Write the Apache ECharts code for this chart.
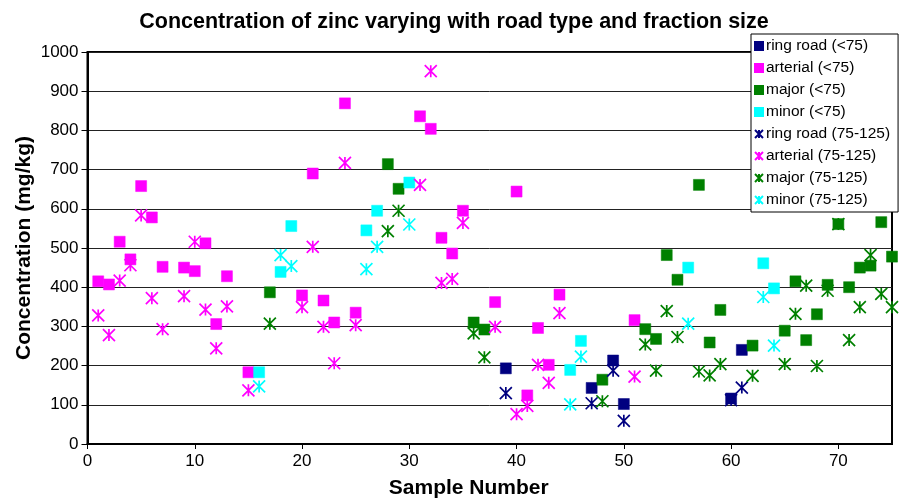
<!DOCTYPE html>
<html>
<head>
<meta charset="utf-8">
<script src="https://cdn.jsdelivr.net/npm/echarts@6/dist/echarts.min.js"></script>
<style>html,body{margin:0;padding:0;background:#fff;}#chart{width:908px;height:504px;}</style>
</head>
<body>
<div id="chart"></div>
<script>
// Sample numbers and concentrations (mg/kg) by road type; fine = <75, coarse = 75-125
var ringSamples = [39, 47, 49, 50, 60, 61];
var ringFine    = [193, 143, 213, 102, 116, 240];
var ringCoarse  = [130, 104, 187, 59, 112, 144];

var arterialSamples = [1, 2, 3, 4, 5, 6, 7, 9, 10, 11, 12, 13, 15, 20, 21, 22, 23, 24, 25, 31, 32, 33, 34, 35, 38, 40, 41, 42, 43, 44, 51];
var arterialFine    = [415, 407, 516, 471, 658, 578, 452, 450, 441, 512, 306, 428, 183, 379, 690, 366, 310, 869, 335, 836, 804, 526, 486, 595, 362, 644, 124, 296, 202, 381, 316];
var arterialCoarse  = [328, 278, 417, 456, 583, 372, 293, 377, 516, 343, 244, 351, 137, 349, 503, 299, 206, 717, 303, 661, 951, 411, 421, 564, 299, 76, 97, 202, 156, 334, 172];

var majorSamples = [17, 28, 29, 36, 37, 48, 52, 53, 54, 55, 57, 58, 59, 62, 65, 66, 67, 68, 69, 70, 71, 72, 73, 74, 75];
var majorFine    = [387, 714, 651, 310, 292, 164, 293, 268, 482, 419, 661, 259, 342, 251, 289, 415, 265, 331, 406, 561, 400, 450, 455, 566, 478];
var majorCoarse  = [307, 543, 595, 282, 221, 109, 254, 187, 339, 273, 185, 175, 204, 174, 204, 332, 404, 199, 391, 561, 265, 349, 482, 383, 349];

var minorSamples = [16, 18, 19, 26, 27, 30, 45, 46, 56, 63, 64];
var minorFine    = [183, 439, 556, 545, 595, 667, 189, 263, 450, 461, 397];
var minorCoarse  = [147, 482, 454, 446, 503, 560, 101, 223, 307, 375, 251];

var seriesNames = ['ring road (<75)', 'arterial (<75)', 'major (<75)', 'minor (<75)',
                   'ring road (75-125)', 'arterial (75-125)', 'major (75-125)', 'minor (75-125)'];
var yTicks = [0, 100, 200, 300, 400, 500, 600, 700, 800, 900, 1000];
var xTicks = [0, 10, 20, 30, 40, 50, 60, 70];

var COLORS = { ring: '#000080', arterial: '#FF00FF', major: '#008000', minor: '#00FFFF' };
var STAR = 'path://M0,0L10,10M10,0L0,10M5,0L5,10';

function pairs(xs, ys) { return xs.map(function (x, i) { return [x, ys[i]]; }); }

function squareSeries(name, xs, ys, c) {
  return { name: name, type: 'scatter', symbol: 'rect', symbolSize: 11, clip: false,
    itemStyle: { color: c, borderColor: c, borderWidth: 0.5, opacity: 1 }, data: pairs(xs, ys) };
}
function starSeries(name, xs, ys, c) {
  return { name: name, type: 'scatter', symbol: STAR, symbolSize: 12, clip: false,
    itemStyle: { color: c, borderColor: c, borderWidth: 1.7, opacity: 1 }, data: pairs(xs, ys) };
}

var series = [
  squareSeries(seriesNames[0], ringSamples, ringFine, COLORS.ring),
  squareSeries(seriesNames[1], arterialSamples, arterialFine, COLORS.arterial),
  squareSeries(seriesNames[2], majorSamples, majorFine, COLORS.major),
  squareSeries(seriesNames[3], minorSamples, minorFine, COLORS.minor),
  starSeries(seriesNames[4], ringSamples, ringCoarse, COLORS.ring),
  starSeries(seriesNames[5], arterialSamples, arterialCoarse, COLORS.arterial),
  starSeries(seriesNames[6], majorSamples, majorCoarse, COLORS.major),
  starSeries(seriesNames[7], minorSamples, minorCoarse, COLORS.minor)
];

var chart = echarts.init(document.getElementById('chart'), null, { renderer: 'canvas' });
var FONT = 'Liberation Sans, Arial, Helvetica, sans-serif';
chart.setOption({
  animation: false,
  backgroundColor: '#fff',
  textStyle: { fontFamily: FONT },
  title: {
    text: 'Concentration of zinc varying with road type and fraction size',
    left: 'center', top: 6, padding: [5, 0, 5, 14],
    textStyle: { fontFamily: FONT, fontWeight: 'bold', fontSize: 21.5, color: '#000' }
  },
  grid: { left: 87.5, right: 16, top: 52, bottom: 56, show: true, borderColor: '#000', borderWidth: 2, backgroundColor: 'transparent' },
  legend: {
    orient: 'vertical', left: 751, top: 34,
    backgroundColor: '#fff', borderColor: '#000', borderWidth: 1,
    padding: [4, 8, 4, 3],
    itemWidth: 8, itemHeight: 8, itemGap: 6,
    textStyle: { fontFamily: FONT, fontSize: 15.5, color: '#000', lineHeight: 15, padding: [0, 0, 0, -2] },
    data: seriesNames
  },
  xAxis: {
    type: 'value', min: xTicks[0], max: 75, interval: 10,
    name: 'Sample Number', nameLocation: 'middle', nameGap: 34, nameMoveOverlap: false,
    nameTextStyle: { fontFamily: FONT, fontWeight: 'bold', fontSize: 21, color: '#000', padding: [0, 42, 0, 0] },
    axisLine: { show: true, onZero: false, lineStyle: { color: '#000', width: 2 } },
    axisTick: { show: true, inside: false, length: 5, lineStyle: { color: '#000', width: 1 } },
    axisLabel: { showMaxLabel: false, fontFamily: FONT, fontSize: 17, color: '#000', margin: 9,
      formatter: function (v) { return xTicks.indexOf(v) >= 0 ? String(v) : ''; } },
    splitLine: { show: false }
  },
  yAxis: {
    type: 'value', min: yTicks[0], max: yTicks[yTicks.length - 1], interval: 100,
    name: 'Concentration (mg/kg)', nameLocation: 'middle', nameGap: 53, nameRotate: 90, nameMoveOverlap: false,
    nameTextStyle: { fontFamily: FONT, fontWeight: 'bold', fontSize: 21, color: '#000' },
    axisLine: { show: true, onZero: false, lineStyle: { color: '#000', width: 2 } },
    axisTick: { show: true, inside: false, length: 6, lineStyle: { color: '#000', width: 1 } },
    axisLabel: { fontFamily: FONT, fontSize: 17, color: '#000', margin: 9,
      formatter: function (v) { return yTicks.indexOf(v) >= 0 ? String(v) : ''; } },
    splitLine: { show: true, lineStyle: { color: '#222', width: 1 } }
  },
  series: series
});
</script>
</body>
</html>
